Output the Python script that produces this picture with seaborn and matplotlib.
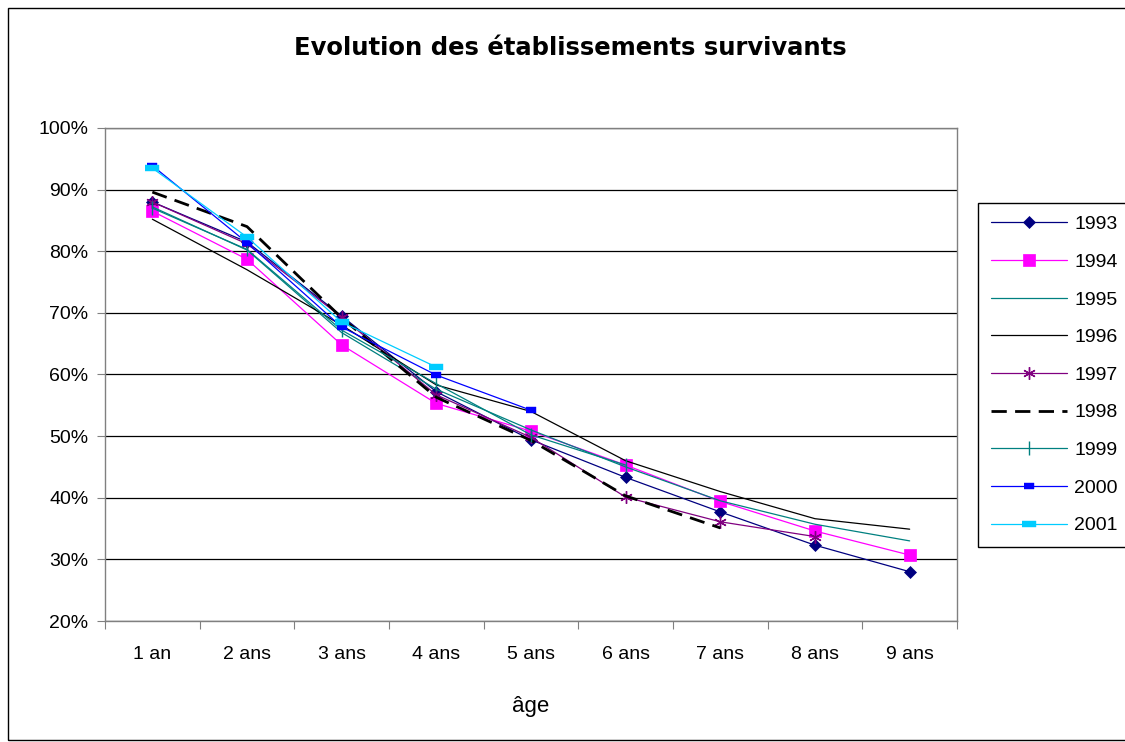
import numpy as np
import matplotlib
matplotlib.use("Agg")
import matplotlib.pyplot as plt
from matplotlib.patches import Rectangle
import seaborn as sns

nan = np.nan
ages = ["1 an", "2 ans", "3 ans", "4 ans", "5 ans", "6 ans", "7 ans", "8 ans", "9 ans"]
years = ["1993", "1994", "1995", "1996", "1997", "1998", "1999", "2000", "2001"]

y1993 = [88.0, 81.5, 69.5, 57.2, 49.4, 43.3, 37.7, 32.3, 28.0]
y1994 = [86.5, 78.7, 64.8, 55.3, 50.8, 45.3, 39.4, 34.6, 30.7]
y1995 = [87.2, 80.2, 66.8, 57.6, 51.0, 45.0, 39.5, 35.7, 33.0]
y1996 = [85.2, 77.0, 68.0, 58.3, 54.0, 46.0, 41.0, 36.6, 34.9]
y1997 = [88.0, 81.2, 69.3, 56.7, 49.8, 40.1, 36.1, 33.7, nan]
y1998 = [89.6, 84.0, 69.2, 56.3, 49.3, 40.3, 35.1, nan, nan]
y1999 = [87.0, 80.3, 67.2, 58.5, 50.2, 45.3, nan, nan, nan]
y2000 = [93.9, 81.4, 67.7, 59.9, 54.2, nan, nan, nan, nan]
y2001 = [93.5, 82.3, 68.5, 61.2, nan, nan, nan, nan, nan]

series = [y1993, y1994, y1995, y1996, y1997, y1998, y1999, y2000, y2001]

rect_small = [(-1, -0.55), (1, -0.55), (1, 0.55), (-1, 0.55)]
rect_big = [(-1, -0.45), (1, -0.45), (1, 0.45), (-1, 0.45)]

styles = [
    dict(color="#000080", marker="D", markersize=6.5, mec="#000080", mfc="#000080", mew=0.5, lw=0.9),
    dict(color="#FF00FF", marker="s", markersize=9, mec="#FF00FF", mfc="#FF00FF", mew=0.5, lw=0.9),
    dict(color="#008080", marker=None, lw=0.9),
    dict(color="#000000", marker=None, lw=0.9),
    dict(color="#800080", marker=(6, 2, 0), markersize=9, mec="#800080", mfc="#800080", mew=1.0, lw=0.9),
    dict(color="#000000", marker=None, lw=2.0, dashes=(5.5, 3)),
    dict(color="#008080", marker="|", markersize=10, mec="#008080", mfc="#008080", mew=1.0, lw=0.9),
    dict(color="#0000FF", marker=rect_small, markersize=7, mec="#0000FF", mfc="#0000FF", mew=0.3, lw=0.9),
    dict(color="#00CCFF", marker=rect_big, markersize=10, mec="#00CCFF", mfc="#00CCFF", mew=0.3, lw=0.9),
]

sns.set_theme(style="white")
plt.rcParams["font.family"] = ["Liberation Sans", "DejaVu Sans"]
plt.rcParams["text.color"] = "black"
plt.rcParams["axes.labelcolor"] = "black"
plt.rcParams["xtick.color"] = "black"
plt.rcParams["ytick.color"] = "black"

W, H = 1125, 742
fig = plt.figure(figsize=(W / 100, H / 100), dpi=100)
fig.patch.set_facecolor("white")
ax = fig.add_axes([105 / W, 1 - 621 / H, (957 - 105) / W, (621 - 128) / H])

pos = np.arange(len(ages))
for yr, vals, st in zip(years, series, styles):
    st = dict(st)
    kw = dict(color=st.pop("color"), linewidth=st.pop("lw"))
    m = st.pop("marker")
    if m is not None:
        kw.update(marker=m, markersize=st.pop("markersize"),
                  markeredgecolor=st.pop("mec"), markerfacecolor=st.pop("mfc"),
                  markeredgewidth=st.pop("mew"))
    if "dashes" in st:
        kw["dashes"] = st.pop("dashes")
    sns.lineplot(x=pos, y=np.array(vals, dtype=float), ax=ax, label=yr, sort=False,
                 legend=False, **kw)

FS = 14
ax.set_xlim(-0.5, len(ages) - 0.5)
ax.set_ylim(20, 100)
yt = np.arange(20, 101, 10)
ax.set_yticks(yt)
ax.set_yticklabels([f"{v}%" for v in yt], fontsize=FS)
ax.set_xticks(pos)
ax.set_xticklabels(ages, fontsize=FS)
ax.set_xticks(np.arange(-0.5, len(ages)), minor=True)
ax.tick_params(axis="x", which="major", length=0, pad=18, labelcolor="black")
ax.tick_params(axis="x", which="minor", length=6, width=0.8, color="#808080", direction="out", bottom=True)
ax.tick_params(axis="y", which="major", length=6, width=0.8, color="#808080", direction="out", left=True,
               pad=6, labelcolor="black")
ax.grid(False)
for v in yt:
    ax.axhline(v, color="black", lw=0.9, zorder=0.5)
for s in ax.spines.values():
    s.set_color("#808080")
    s.set_linewidth(1.0)
ax.set_xlabel("âge", fontsize=16, labelpad=24, color="black")
ax.set_ylabel("")

fig.text(0.507, 1 - 48 / H, "Evolution des établissements survivants", ha="center", va="center",
         fontsize=17.5, fontweight="bold", family=["DejaVu Sans"], color="black")

handles, labels = ax.get_legend_handles_labels()
leg = ax.legend(handles, labels, loc="upper left", bbox_to_anchor=(978 / W, 1 - 203 / H),
                bbox_transform=fig.transFigure, fontsize=FS, handlelength=3.95, labelspacing=1.03,
                handletextpad=0.36, borderpad=0.65, frameon=True, fancybox=False, framealpha=1,
                borderaxespad=0)
leg.get_frame().set_edgecolor("black")
leg.get_frame().set_linewidth(1.0)
for t in leg.get_texts():
    t.set_color("black")

fig.add_artist(Rectangle((8 / W, 1 - 740 / H), (1140 - 8) / W, (740 - 8) / H, transform=fig.transFigure,
                         fill=False, edgecolor="black", linewidth=1.0))

fig.savefig("out.png", dpi=100)
